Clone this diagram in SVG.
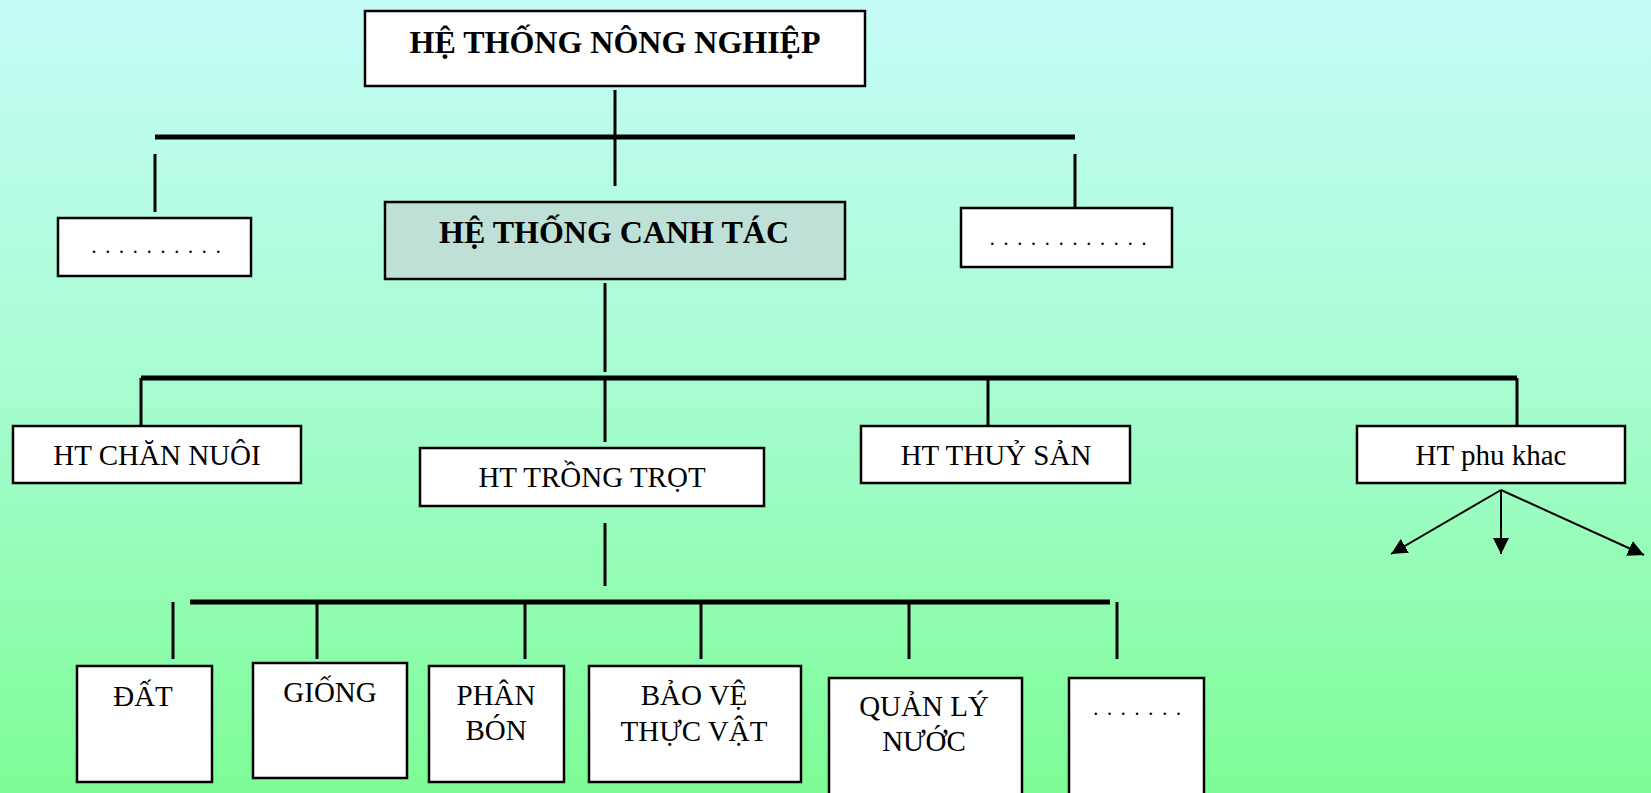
<svg xmlns="http://www.w3.org/2000/svg" width="1651" height="793" viewBox="0 0 1651 793">
<defs>
<linearGradient id="bg" x1="0" y1="0" x2="0" y2="1">
<stop offset="0" stop-color="#c6fcf8"/>
<stop offset="0.5" stop-color="#a6fcd0"/>
<stop offset="1" stop-color="#7efc96"/>
</linearGradient>
<marker id="arrow" viewBox="0 0 16 16" refX="16" refY="8" markerWidth="16" markerHeight="16" markerUnits="userSpaceOnUse" orient="auto">
<path d="M0,0 L16,8 L0,16 z" fill="#000"/>
</marker>
</defs>
<style>
.box{fill:#fff;stroke:#000;stroke-width:2.5}
.shade{fill:#bfe0d6;stroke:#000;stroke-width:2.5}
.t{font-family:"Liberation Serif","Times New Roman",serif;fill:#000;text-anchor:middle}
.b{font-weight:bold;font-size:32px}
.n{font-size:29px}
.d{font-size:20px;letter-spacing:1.9px}
.ln{stroke:#000;stroke-width:3;fill:none}
.bar{stroke:#000;stroke-width:5;fill:none}
.ar{stroke:#000;stroke-width:2;fill:none;marker-end:url(#arrow)}
</style>
<rect width="1651" height="793" fill="url(#bg)"/>

<g id="connectors">
<line class="ln" x1="615" y1="90" x2="615" y2="186"/>
<line class="bar" x1="155" y1="137" x2="1075" y2="137"/>
<line class="ln" x1="155" y1="154" x2="155" y2="212"/>
<line class="ln" x1="1075" y1="154" x2="1075" y2="212"/>

<line class="ln" x1="605" y1="283" x2="605" y2="372"/>
<line class="bar" x1="141" y1="378" x2="1517" y2="378"/>
<line class="ln" x1="141" y1="378" x2="141" y2="427"/>
<line class="ln" x1="605" y1="378" x2="605" y2="442"/>
<line class="ln" x1="988" y1="378" x2="988" y2="427"/>
<line class="ln" x1="1517" y1="378" x2="1517" y2="427"/>

<line class="ln" x1="605" y1="523" x2="605" y2="586"/>
<line class="bar" x1="190" y1="602" x2="1110" y2="602"/>
<line class="ln" x1="173" y1="602" x2="173" y2="659"/>
<line class="ln" x1="317" y1="602" x2="317" y2="659"/>
<line class="ln" x1="525" y1="602" x2="525" y2="659"/>
<line class="ln" x1="701" y1="602" x2="701" y2="659"/>
<line class="ln" x1="909" y1="602" x2="909" y2="659"/>
<line class="ln" x1="1117" y1="602" x2="1117" y2="659"/>

<line class="ar" x1="1501" y1="490" x2="1391" y2="554"/>
<line class="ar" x1="1501" y1="490" x2="1501" y2="554"/>
<line class="ar" x1="1501" y1="490" x2="1644" y2="555"/>
</g>

<g id="n-nongnghiep">
<rect class="box" x="365" y="11" width="500" height="75"/>
<text class="t b" x="615" y="53">HỆ THỐNG NÔNG NGHIỆP</text>
</g>
<g id="n-left-dots">
<rect class="box" x="58" y="218" width="193" height="58"/>
<text class="t d" x="157" y="253">. . . . . . . . . .</text>
</g>
<g id="n-canhtac">
<rect class="shade" x="385" y="202" width="460" height="77"/>
<text class="t b" x="614" y="243">HỆ THỐNG CANH TÁC</text>
</g>
<g id="n-right-dots">
<rect class="box" x="961" y="208" width="211" height="59"/>
<text class="t d" x="1069" y="245">. . . . . . . . . . . .</text>
</g>

<g id="n-channuoi">
<rect class="box" x="13" y="426" width="288" height="57"/>
<text class="t n" x="157" y="465">HT CHĂN NUÔI</text>
</g>
<g id="n-trongtrot">
<rect class="box" x="420" y="448" width="344" height="58"/>
<text class="t n" x="592" y="487">HT TRỒNG TRỌT</text>
</g>
<g id="n-thuysan">
<rect class="box" x="861" y="426" width="269" height="57"/>
<text class="t n" x="996" y="465">HT THUỶ SẢN</text>
</g>
<g id="n-phukhac">
<rect class="box" x="1357" y="426" width="268" height="57"/>
<text class="t n" x="1491" y="465">HT phu khac</text>
</g>

<g id="n-dat">
<rect class="box" x="77" y="666" width="135" height="116"/>
<text class="t n" x="143" y="706">ĐẤT</text>
</g>
<g id="n-giong">
<rect class="box" x="253" y="663" width="154" height="115"/>
<text class="t n" x="330" y="702">GIỐNG</text>
</g>
<g id="n-phanbon">
<rect class="box" x="429" y="666" width="135" height="116"/>
<text class="t n" x="496" y="705">PHÂN</text>
<text class="t n" x="496" y="740">BÓN</text>
</g>
<g id="n-baove">
<rect class="box" x="589" y="666" width="212" height="116"/>
<text class="t n" x="694" y="705">BẢO VỆ</text>
<text class="t n" x="694" y="741">THỰC VẬT</text>
</g>
<g id="n-quanly">
<rect class="box" x="829" y="678" width="193" height="130"/>
<text class="t n" x="924" y="716">QUẢN LÝ</text>
<text class="t n" x="924" y="751">NƯỚC</text>
</g>
<g id="n-bottom-dots">
<rect class="box" x="1069" y="678" width="135" height="130"/>
<text class="t d" x="1138" y="715">. . . . . . .</text>
</g>
</svg>
